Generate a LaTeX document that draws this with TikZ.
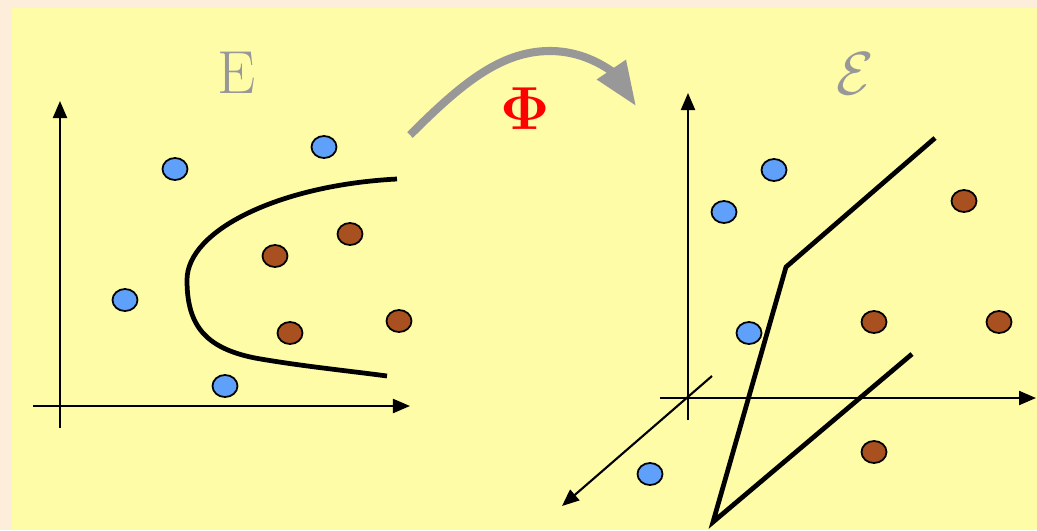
\documentclass[tikz,border=0pt]{standalone}
\usepackage{amsmath,amssymb}
\usepackage{bm}
\usetikzlibrary{arrows.meta,shapes.geometric}
\definecolor{panelyellow}{RGB}{255,252,168}
\definecolor{pagebeige}{RGB}{252,238,218}
\definecolor{dotblue}{RGB}{94,160,250}
\definecolor{dotbrown}{RGB}{168,80,32}
\definecolor{mapgrey}{RGB}{152,152,152}

\begin{document}
\begin{tikzpicture}[x=0.01cm, y=-0.01cm,
  dot/.style={ellipse, draw=black, line width=0.5pt, inner sep=0pt, minimum width=0.25cm, minimum height=0.22cm},
  bluedot/.style={dot, fill=dotblue}, browndot/.style={dot, fill=dotbrown},
  axis/.style={line width=0.6pt, -{Triangle[length=0.17cm, width=0.14cm]}},
  boundary/.style={line width=1.35pt, line join=miter},
  spacename/.style={text=mapgrey, font=\fontsize{17}{20}\selectfont}]
  % slide background
  \fill[pagebeige] (0,0) rectangle (1037,530);
  \fill[panelyellow] (12,8) rectangle (1037,530);
  \useasboundingbox (0,0) rectangle (1037,530);

  % input space E: two axes
  \coordinate (LxA) at (33,406);  \coordinate (LxB) at (410,406);
  \coordinate (LyA) at (60,428);  \coordinate (LyB) at (60,101);
  \draw[axis] (LxA) -- (LxB);
  \draw[axis] (LyA) -- (LyB);
  \node[spacename] (inE) at (237,73) {$\mathrm{E}$};
  % curved separating boundary
  \coordinate (LcA) at (397,179); \coordinate (LcB) at (387,376);
  \draw[boundary] (LcA) .. controls (280,185) and (187,230) .. (187,280)
    .. controls (187,325) and (205,348) .. (255,358)
    .. controls (300,366) and (350,371) .. (LcB);
  % samples in E
  \node[bluedot] (Lb1) at (175,169) {}; \node[bluedot] (Lb2) at (324,147) {};
  \node[bluedot] (Lb3) at (125,300) {}; \node[bluedot] (Lb4) at (225,386) {};
  \node[browndot] (Lr1) at (275,256) {}; \node[browndot] (Lr2) at (350,234) {};
  \node[browndot] (Lr3) at (290,333) {}; \node[browndot] (Lr4) at (399,321) {};

  % the map Phi
  \coordinate (mapL) at (410,135); \coordinate (mapTop) at (550,51); \coordinate (mapR) at (636,106);
  \draw[mapgrey, line width=2.3pt, -{Triangle[length=0.44cm, width=0.33cm]}]
    (mapL) .. controls (460,85) and (500,51) .. (mapTop) .. controls (590,51) and (615,75) .. (mapR);
  \node[red, font=\fontsize{17}{20}\selectfont] (phi) at (525,109) {$\bm{\Phi}$};

  % feature space: three axes
  \coordinate (RxA) at (660,398); \coordinate (RxB) at (1036,398);
  \coordinate (RyA) at (688,420); \coordinate (RyB) at (688,93);
  \coordinate (RzA) at (712,376); \coordinate (RzB) at (562,506);
  \draw[axis] (RxA) -- (RxB);
  \draw[axis] (RyA) -- (RyB);
  \draw[axis] (RzA) -- (RzB);
  \node[spacename] (featE) at (855,74) {$\mathcal{E}$};
  % piecewise linear boundary
  \coordinate (P1) at (935,138); \coordinate (P2) at (786,267);
  \coordinate (P3) at (713,522); \coordinate (P4) at (912,354);
  \draw[boundary] (P1) -- (P2) -- (P3) -- (P4);
  % samples in the feature space
  \node[bluedot] (Rb1) at (774,170) {}; \node[bluedot] (Rb2) at (724,212) {};
  \node[bluedot] (Rb3) at (749,333) {}; \node[bluedot] (Rb4) at (650,474) {};
  \node[browndot] (Rr1) at (964,201) {}; \node[browndot] (Rr2) at (874,322) {};
  \node[browndot] (Rr3) at (999,322) {}; \node[browndot] (Rr4) at (874,452) {};
\end{tikzpicture}
\end{document}
